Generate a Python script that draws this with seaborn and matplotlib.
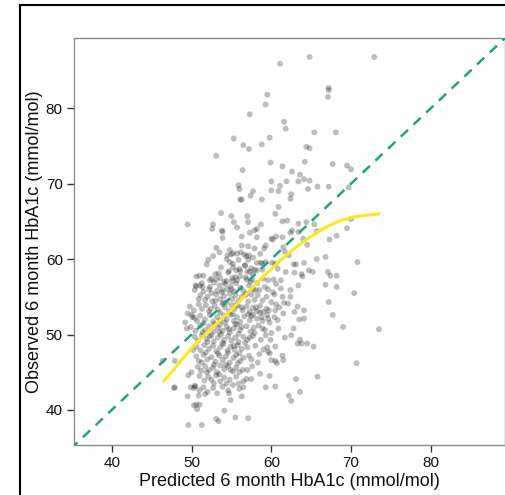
import matplotlib
matplotlib.use("Agg")
import matplotlib.pyplot as plt
import seaborn as sns
import pandas as pd
from matplotlib.patches import Rectangle

# ---------------- data ----------------
pred_upper = [64.8,72.9,61.1,59.5,59.3,67.2,67.2,67.1,57.3,61.6,61.8,65.4,68.1,55.3,59.8,56.5,57.2,58.8,64.4,64.8,
              53.1,59.9,64.2,67.7,69.5,70.0,61.4,62.6,56.4,63.6,60.0,61.9,63.4,64.1,64.8,55.9,56.0,61.1,60.9,60.0,
              64.6,65.8,67.2,69.7,57.7,57.4,56.1,56.3,58.8,62.5,62.4,60.9,53.7,60.5,49.5,52.7,52.6,55.0,57.0,55.3,
              55.7,57.1,57.3,57.9,58.2,58.7,61.4,62.0,63.4,64.4,65.4,62.6,62.4,70.0,69.5,53.8,53.9,53.9,56.3,58.2,
              60.0,60.2,60.6,61.4,63.4,64.0,65.7,68.2,67.3]
obs_upper = [86.8,86.8,85.9,81.8,80.5,82.7,82.4,81.5,79.2,78.2,77.3,76.8,76.8,76.0,76.1,75.1,74.6,75.2,74.9,74.7,
             73.7,72.8,72.9,72.6,72.4,71.9,72.3,71.6,71.8,71.2,70.3,70.3,70.3,70.6,70.4,69.8,69.3,69.7,69.0,69.1,
             69.3,69.6,69.6,69.5,69.0,68.4,67.9,67.9,67.9,68.6,68.0,66.9,66.1,66.0,64.6,64.6,64.0,65.7,65.7,64.9,
             64.2,64.9,63.5,63.8,64.0,64.6,65.0,65.1,64.7,64.9,64.6,63.8,63.5,65.3,64.1,63.8,63.6,62.8,63.0,62.9,
             62.7,62.6,63.0,62.9,63.6,62.7,63.7,63.1,62.6]

pred_mid = [64.5,61.5,59.3,59.1,56.3,57.9,53.5,52.1,54.5,55.0,55.7,56.2,56.9,57.2,57.1,58.6,58.9,58.7,59.3,60.1,
            60.5,61.7,62.2,62.8,63.1,64.1,65.7,66.8,70.8,56.7,55.2,53.4,54.7,55.2,56.0,57.0,57.3,57.9,58.2,57.6,
            58.9,60.8,61.8,62.9,63.8,63.9,64.7,65.2,67.1,67.4,68.2,50.6,51.5,52.5,51.1,52.2,51.4,50.4,54.1,54.4,
            55.1,55.7,56.1,56.8,59.0,59.6,60.3,60.6,61.2,61.2,63.4,66.8,68.2,70.4]
obs_mid = [61.9,61.6,61.8,61.4,61.8,61.4,60.9,59.9,60.5,60.6,60.7,60.9,60.4,60.5,59.9,60.7,59.4,59.5,59.6,59.5,
           59.4,61.0,60.5,59.3,59.3,59.5,60.0,60.3,59.6,59.1,59.4,58.1,58.4,58.9,58.7,58.4,58.3,58.6,58.5,57.3,
           58.6,58.7,58.3,58.2,58.0,57.7,58.5,58.3,58.3,57.8,57.8,57.7,57.8,57.4,56.5,56.0,56.3,55.9,57.0,57.1,
           57.5,57.2,57.7,57.6,57.4,57.2,57.3,56.7,57.2,56.1,56.5,56.6,56.3,55.5]

pred_low = [67.2,67.7,69.0,73.5,65.3,70.7,65.8,63.6,62.2,62.5,63.1,61.5,61.4,60.5,60.7,60.0,60.5,59.6,59.8,59.5,
            58.5,59.9,61.7,62.5,63.3,63.6,63.8,64.5,62.8,63.5,64.1,64.1,62.9,63.3,62.1,61.6,60.6,60.4,61.4,62.4,
            62.4,61.5,60.5,59.6,59.8,59.3,58.9,60.9,60.0,59.8,59.3,60.5,57.5,57.0,57.1,55.5,54.1,53.4,53.1,49.6,
            51.3,50.6,51.0,50.7,50.3,54.9,56.3,54.7,51.7,50.9,47.9,47.8,46.4,47.9,49.6,49.9,49.5,50.3,50.5,49.2,
            49.5,50.0,49.4,50.5]
obs_low = [54.3,52.6,51.0,50.7,48.4,46.2,44.4,42.4,41.9,41.2,44.1,46.6,47.2,46.5,46.2,46.6,48.4,47.7,47.5,48.3,
           47.4,49.3,49.6,49.9,48.8,49.3,48.8,48.8,50.8,52.0,53.2,52.1,53.0,53.7,54.1,54.2,54.0,55.3,55.0,55.9,
           55.0,52.8,53.2,52.1,51.6,49.9,50.8,50.8,50.2,44.5,43.0,43.1,44.1,45.3,38.9,39.0,39.9,38.5,38.8,38.0,
           38.0,40.7,40.7,40.1,40.6,41.3,41.8,42.2,42.1,41.9,43.0,42.9,46.5,46.5,44.6,43.0,41.8,42.9,43.1,51.6,
           52.8,52.6,50.8,56.5]

pred_core = [50.6,51.3,51.5,52.3,52.8,53.2,53.5,53.9,54.2,54.5,54.9,55.3,55.6,56.1,56.5,57.2,57.7,58.2,58.5,59.2,
             51.1,51.7,52.0,52.6,53.1,53.6,54.1,54.4,54.8,55.1,55.5,55.9,56.3,56.9,57.1,57.5,57.9,58.3,58.9,59.4,60.0,
             49.8,50.3,50.9,51.3,51.8,52.2,52.9,53.3,53.9,54.2,54.7,55.0,55.4,55.8,56.4,56.9,57.3,57.7,58.2,58.6,59.0,59.4,59.7,
             50.1,50.7,51.1,51.7,52.3,52.7,53.2,53.6,54.1,54.4,54.9,55.3,55.7,56.1,56.6,57.3,57.7,58.2,58.9,
             49.9,50.5,51.1,51.7,52.2,52.8,53.3,53.6,53.9,54.4,54.8,55.3,55.7,56.1,56.9,57.4,57.8,58.4,
             50.4,50.8,51.3,51.9,52.3,52.8,53.3,53.7,54.1,54.6,55.0,55.5,55.9,56.5,57.0,57.7,
             50.6,51.1,51.6,52.2,52.7,53.1,53.6,54.0,54.5,54.9,55.4,55.8,56.3,57.0,
             50.6,50.9,51.5,52.0,52.5,53.0,53.5,53.9,54.3,54.8,55.3,55.6,56.1,56.5,57.5,
             50.8,51.2,51.7,52.2,52.7,53.2,53.6,54.1,54.6,55.2,55.6,56.0,
             51.0,51.6,52.1,52.5,53.1,53.6,54.1,54.8,55.6,56.5,56.9,
             50.4,51.0,51.5,52.0,52.7,53.2,53.9,54.6,55.2,56.0,56.5,
             51.0,52.3,53.0,53.6,54.6,55.5,56.1,56.9,57.7,
             51.9,53.7,54.8,55.6,56.7,57.5,58.2,
             52.7,54.4,55.2,55.9,56.6,57.7,
             53.1,54.8,57.1]
obs_core = [56.4,56.8,55.7,56.3,56.9,55.8,56.5,55.9,56.7,56.0,56.4,55.7,56.8,56.2,55.8,56.5,56.0,56.8,55.9,56.3,
            55.2,54.6,55.0,54.4,55.3,54.7,55.1,54.3,55.4,54.7,55.2,54.5,55.0,55.4,54.4,55.3,54.6,55.2,54.5,55.0,54.3,
            53.7,53.2,54.0,53.4,53.9,53.1,53.8,53.3,54.0,53.6,53.1,53.9,53.4,53.8,53.2,53.7,53.0,53.5,53.1,53.8,53.0,53.4,53.2,
            52.3,51.8,52.5,52.0,52.6,51.7,52.3,51.9,52.5,52.0,52.6,51.8,52.3,51.7,52.4,51.9,52.6,52.1,51.8,
            51.0,50.5,51.2,50.6,51.1,50.4,50.9,51.3,50.5,51.0,50.3,50.8,51.3,50.6,51.1,50.4,50.9,51.2,
            49.7,49.2,49.9,49.4,49.8,49.1,49.6,50.0,49.3,49.8,49.2,49.6,49.0,49.7,49.3,49.8,
            48.4,47.9,48.6,48.1,48.5,47.8,48.3,48.7,47.9,48.4,48.0,48.6,48.1,48.3,
            47.1,46.5,47.3,46.7,47.0,46.4,47.2,46.6,47.1,46.3,46.9,47.3,46.5,46.9,46.7,
            45.7,45.2,45.8,45.3,45.6,45.0,45.9,45.4,45.8,45.1,45.6,45.0,
            44.5,43.9,44.4,44.0,44.6,43.8,44.3,44.0,44.4,43.8,44.1,
            43.2,42.6,43.0,42.4,42.9,42.2,43.1,42.6,43.3,42.8,43.0,
            57.8,57.2,58.0,57.5,58.2,57.6,58.4,57.3,58.0,
            59.3,58.9,59.6,58.5,59.2,58.8,59.5,
            60.4,60.0,60.8,59.9,60.6,60.2,
            61.5,61.2,61.7]

pred_extra = [52.5,53.8,55.0,56.7,54.0,55.6,53.0,52.4,53.6,55.2,56.3,57.5,58.6,51.5,52.9,54.2,55.5,56.3,57.1,51.4,
              52.5,53.5,54.7,55.9,57.3,52.0,53.9,55.3,56.7,51.8,53.3,54.6,56.0,57.2,51.3,52.8,54.3,55.8,51.9,53.5,
              54.9,56.4,52.8,54.4,55.9,58.1,58.8,59.5,57.9,58.7,59.2,58.0,59.6,57.4,55.1,53.1,50.9,50.4,50.2,50.0,
              58.0,59.0,57.6,58.3,58.6,60.4,60.2,61.0,60.8]
obs_extra = [55.5,55.6,56.0,55.2,54.2,54.0,54.5,53.4,52.9,52.7,53.6,52.4,52.9,51.5,51.4,51.6,51.4,51.0,52.7,50.3,
             49.9,50.3,50.7,50.1,49.6,49.0,48.9,48.5,48.9,47.6,47.5,47.6,47.5,47.2,46.3,46.0,46.0,46.2,45.0,44.7,
             45.3,45.3,43.5,43.5,43.5,53.6,52.3,52.6,50.2,49.3,50.6,55.9,56.0,57.0,57.1,57.3,54.7,52.2,47.9,45.0,
             48.5,48.0,45.8,46.3,44.8,52.3,55.6,53.6,51.9]

# smoothed (loess) fit
fit_x = [46.5, 47.5, 48.5, 50, 51, 52, 53, 54, 55, 56, 57, 58, 59, 60, 61, 62, 63, 64, 65, 66, 67, 68, 69, 70, 71, 72, 73.5]
fit_y = [43.8, 45.0, 46.3, 48.2, 49.3, 50.3, 51.3, 52.3, 53.3, 54.4, 55.5, 56.6, 57.7, 58.7, 59.7, 60.6, 61.5, 62.3, 63.0, 63.7,
         64.3, 64.8, 65.2, 65.5, 65.7, 65.8, 66.0]

# identity line
ident = [30, 95]

ticks = [40, 50, 60, 70, 80]
xlabel = "Predicted 6 month HbA1c (mmol/mol)"
ylabel = "Observed 6 month HbA1c (mmol/mol)"

# ---------------- plot ----------------
sns.set_style("white")
plt.rcParams['font.family'] = ['Liberation Sans', 'DejaVu Sans']

df = pd.DataFrame({
    "pred": pred_upper + pred_mid + pred_low + pred_core + pred_extra,
    "obs": obs_upper + obs_mid + obs_low + obs_core + obs_extra,
})
fit = pd.DataFrame({"x": fit_x, "y": fit_y})
idf = pd.DataFrame({"x": ident, "y": ident})

fig = plt.figure(figsize=(5.06, 4.95), dpi=100)
ax = fig.add_axes([0.146, 0.101, 0.852, 0.822])

sns.scatterplot(data=df, x="pred", y="obs", ax=ax, color="black", alpha=0.26,
                s=18, linewidth=0, edgecolor="none", zorder=2)
sns.lineplot(data=idf, x="x", y="y", ax=ax, color="#21A37F", lw=1.8,
             linestyle=(0, (4, 3)), zorder=3)
sns.lineplot(data=fit, x="x", y="y", ax=ax, color="#FDE725", lw=2.2, zorder=4)

ax.set_xlim(35.25, 89.3)
ax.set_ylim(35.35, 89.3)
ax.set_xticks(ticks)
ax.set_yticks(ticks)
ax.tick_params(axis="both", which="both", direction="out", length=5, width=1,
               color="#333333", labelsize=11, labelcolor="#111111", pad=3,
               bottom=True, left=True, top=False, right=False)
for sp in ax.spines.values():
    sp.set_color("#8a8a8a")
    sp.set_linewidth(1.0)
ax.set_xlabel(xlabel, fontsize=13, color="#111111", labelpad=2)
ax.set_ylabel(ylabel, fontsize=13, color="#111111", labelpad=2)

fig.add_artist(Rectangle((20 / 506, -0.05), 1.2, 1.04, transform=fig.transFigure,
                         fill=False, edgecolor="black", linewidth=1.5, clip_on=False))

fig.savefig("out.png", dpi=100)
